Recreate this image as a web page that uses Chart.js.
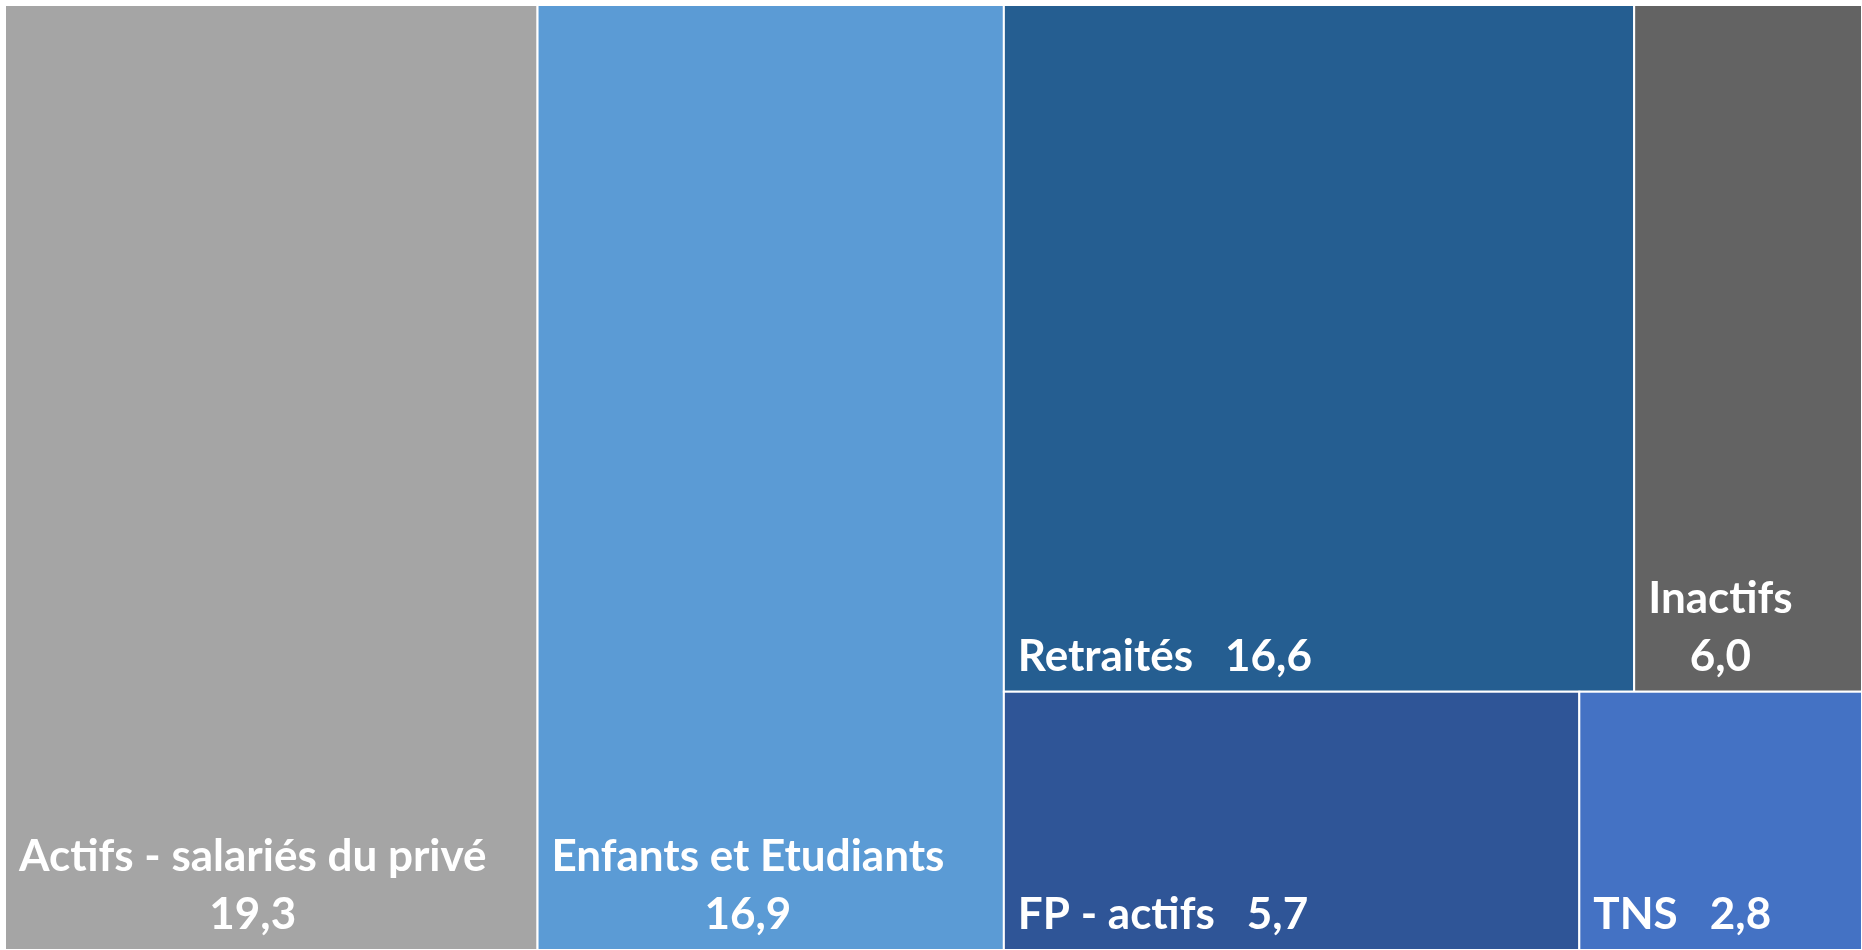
<!DOCTYPE html>
<html>
<head>
<meta charset="utf-8">
<script src="https://cdn.jsdelivr.net/npm/chart.js@4/dist/chart.umd.min.js"></script>
<style>
  html, body { margin: 0; padding: 0; background: #fff; }
  #wrap { width: 1862px; height: 950px; }
</style>
</head>
<body>
<div id="wrap"><canvas id="myChart"></canvas></div>
<script>
const categories = ['Actifs - salariés du privé', 'Enfants et Etudiants', 'Retraités', 'Inactifs', 'FP - actifs', 'TNS'];
const values = [19.3, 16.9, 16.6, 6.0, 5.7, 2.8];
const colors = ['#A5A5A5', '#5B9BD5', '#255E91', '#636363', '#2F5597', '#4472C4'];
// grouping of the tiles: first level left to right, second top to bottom, third left to right
const tiling = [0, 1, [[2, 3], [4, 5]]];

const total = values.reduce((a, b) => a + b, 0);

function nodeSum(node) {
    if (typeof node === 'number') return values[node];
    return node.reduce((s, n) => s + nodeSum(n), 0);
}

function place(node, x0, x1, y0, y1, horiz, out) {
    if (typeof node === 'number') {
        out.push({ i: node, x0: x0, x1: x1, y0: y0, y1: y1 });
        return;
    }
    const s = nodeSum(node);
    let cur = horiz ? x0 : y0;
    for (let child of node) {
        const part = nodeSum(child) / s;
        if (horiz) {
            const w = (x1 - x0) * part;
            place(child, cur, cur + w, y0, y1, !horiz, out);
            cur += w;
        } else {
            const h = (y1 - y0) * part;
            place(child, x0, x1, cur, cur + h, !horiz, out);
            cur += h;
        }
    }
}

function fmt(v) {
    return v.toFixed(1).replace('.', ',');
}

const treemapPlugin = {
    id: 'treemap',
    afterDatasetsDraw(chart) {
        const ctx = chart.ctx;
        const xs = chart.scales.x;
        const ys = chart.scales.y;
        let cells = [];
        place(tiling, 0, total, 0, 1, true, cells);
        ctx.save();
        for (let c of cells) {
            const left = xs.getPixelForValue(c.x0);
            const right = xs.getPixelForValue(c.x1);
            const top = ys.getPixelForValue(c.y0);
            const bottom = ys.getPixelForValue(c.y1);
            ctx.fillStyle = colors[c.i];
            ctx.fillRect(left, top, right - left, bottom - top);
            ctx.strokeStyle = '#ffffff';
            ctx.lineWidth = 2;
            ctx.strokeRect(left, top, right - left, bottom - top);

            // label
            ctx.fillStyle = '#ffffff';
            ctx.font = 'bold 44px Lato';
            ctx.textBaseline = 'alphabetic';
            const pad = 14;
            const single = categories[c.i] + '   ' + fmt(values[c.i]);
            if (ctx.measureText(single).width <= right - left - 2 * pad) {
                ctx.textAlign = 'left';
                ctx.fillText(single, left + pad, bottom - 21);
            } else {
                const l1 = categories[c.i];
                const l2 = fmt(values[c.i]);
                const w = Math.max(ctx.measureText(l1).width, ctx.measureText(l2).width);
                ctx.textAlign = 'center';
                ctx.fillText(l1, left + pad + w / 2, bottom - 79);
                ctx.fillText(l2, left + pad + w / 2, bottom - 21);
            }
        }
        ctx.restore();
    }
};

const ctx = document.getElementById('myChart');
new Chart(ctx, {
    type: 'scatter',
    data: {
        datasets: [{ label: 'Treemap', data: [] }]
    },
    options: {
        responsive: true,
        maintainAspectRatio: false,
        animation: false,
        layout: { padding: { left: 5, top: 5, right: 0, bottom: 0 } },
        scales: {
            x: { type: 'linear', min: 0, max: total, display: false },
            y: { type: 'linear', min: 0, max: 1, reverse: true, display: false }
        },
        plugins: {
            legend: { display: false },
            tooltip: { enabled: false }
        }
    },
    plugins: [treemapPlugin]
});
</script>
</body>
</html>
